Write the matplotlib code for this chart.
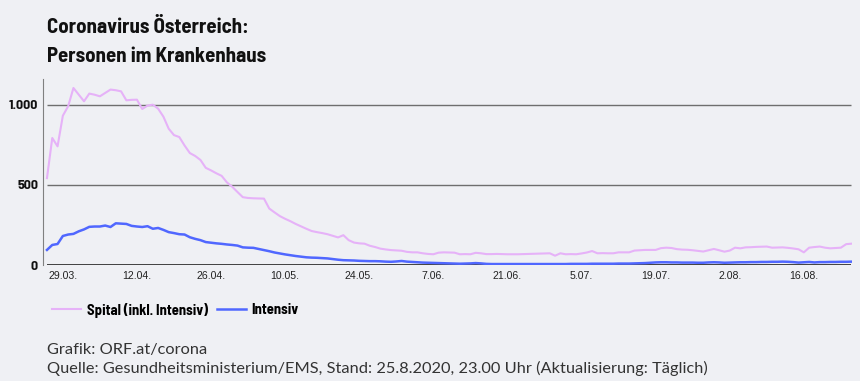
import matplotlib

matplotlib.use("Agg")
import matplotlib.pyplot as plt
import matplotlib.dates as mdates
import pandas as pd

# daily values 26.03.2020 - 25.08.2020
start_date = "2020-03-26"

spital = [
    542, 792, 740, 931, 990, 1104, 1062, 1021, 1069, 1062,
    1052, 1073, 1094, 1090, 1083, 1027, 1030, 1031, 973, 994,
    1000, 975, 925, 850, 810, 798, 745, 698, 680, 655,
    606, 590, 572, 556, 515, 488, 455, 423, 418, 416,
    415, 414, 352, 328, 305, 288, 273, 256, 241, 226,
    212, 205, 199, 192, 182, 172, 186, 155, 140, 135,
    133, 120, 112, 102, 97, 93, 91, 89, 82, 79,
    79, 73, 69, 67, 77, 79, 78, 77, 67, 68,
    67, 76, 73, 68, 68, 69, 68, 67, 67, 67,
    68, 69, 70, 71, 72, 73, 58, 73, 67, 68,
    67, 72, 78, 87, 73, 74, 73, 73, 79, 79,
    79, 90, 92, 94, 94, 94, 105, 108, 106, 99,
    96, 95, 92, 88, 84, 92, 100, 92, 83, 90,
    108, 104, 110, 111, 113, 114, 115, 108, 109, 110,
    107, 103, 98, 79, 108, 112, 115, 108, 104, 106,
    108, 130, 133,
]

intensiv = [
    94, 125, 131, 181, 190, 194, 210, 222, 238, 240,
    240, 246, 237, 260, 258, 256, 244, 240, 237, 242,
    226, 231, 219, 205, 199, 192, 190, 173, 163, 155,
    143, 139, 135, 132, 128, 125, 121, 110, 108, 107,
    100, 93, 86, 78, 72, 66, 61, 56, 52, 48,
    46, 45, 43, 41, 37, 33, 30, 29, 28, 26,
    25, 24, 24, 23, 21, 20, 22, 25, 21, 19,
    17, 15, 14, 13, 12, 11, 10, 9, 8, 9,
    10, 12, 10, 7, 6, 6, 6, 6, 6, 6,
    6, 6, 6, 6, 6, 6, 6, 6, 6, 7,
    7, 7, 7, 8, 8, 8, 8, 8, 9, 9,
    9, 10, 11, 12, 14, 16, 17, 17, 16, 16,
    15, 15, 15, 14, 14, 16, 17, 16, 14, 15,
    16, 17, 17, 18, 18, 19, 19, 20, 20, 21,
    20, 18, 15, 17, 19, 16, 18, 18, 19, 19,
    20, 20, 21,
]

tick_dates = ["2020-03-29", "2020-04-12", "2020-04-26", "2020-05-10", "2020-05-24",
              "2020-06-07", "2020-06-21", "2020-07-05", "2020-07-19", "2020-08-02",
              "2020-08-16"]
tick_labels = ["29.03.", "12.04.", "26.04.", "10.05.", "24.05.", "7.06.", "21.06.",
               "5.07.", "19.07.", "2.08.", "16.08."]
y_ticks = [0, 500, 1000]
y_labels = ["0", "500", "1.000"]

BG = "#eff0f4"
PINK = "#e6b2f8"
BLUE = "#5067ff"
COND = ["Barlow Semi Condensed", "Asap Condensed", "DejaVu Sans"]

dates = pd.date_range(start_date, periods=len(spital), freq="D")
x = mdates.date2num(dates)

fig = plt.figure(figsize=(8.6, 3.81), dpi=100, facecolor=BG)
ax = fig.add_axes([43 / 860, 116 / 381, 809 / 860, 186 / 381], facecolor=BG)

ax.hlines([500, 1000], x[0], x[-1], color="#6e6e6e", linewidth=1.0, zorder=1)
ax.hlines(0, x[0], x[-1], color="#333333", linewidth=1.3, zorder=1)

ax.plot(x, spital, color=PINK, linewidth=1.5, label="Spital (inkl. Intensiv)", zorder=3)
ax.plot(x, intensiv, color=BLUE, linewidth=1.8, label="Intensiv", zorder=4)

ax.set_xlim(x[0] - 0.75, x[-1] + 0.1)
ax.set_ylim(0, 1160)

for side in ["top", "right", "bottom"]:
    ax.spines[side].set_visible(False)
ax.spines["left"].set_color("#808080")
ax.spines["left"].set_linewidth(0.8)

ax.set_yticks(y_ticks)
ax.set_yticklabels(y_labels, family=COND, fontweight="bold", fontsize=10)
ax.set_xticks(mdates.date2num(pd.to_datetime(tick_dates)))
ax.set_xticklabels(tick_labels, family=["Liberation Sans", "DejaVu Sans"], fontsize=7.6)
ax.tick_params(axis="y", length=0, pad=3.6, colors="#111111")
ax.tick_params(axis="x", length=0, pad=4.5, colors="#222222")

fig.text(47 / 860, 1 - 33 / 381, "Coronavirus Österreich:", family=COND,
         fontweight="bold", fontsize=15, color="#111111", va="baseline")
fig.text(47 / 860, 1 - 62 / 381, "Personen im Krankenhaus", family=COND,
         fontweight="bold", fontsize=15, color="#111111", va="baseline")

leg = ax.legend(loc="center left", bbox_to_anchor=(52 / 860, 1 - 310 / 381),
                bbox_transform=fig.transFigure, ncol=2, frameon=False,
                prop={"family": COND, "weight": "bold", "size": 10.5},
                handlelength=2.0, handletextpad=0.4, columnspacing=0.6,
                borderaxespad=0, borderpad=0)

fig.text(47 / 860, 1 - 354 / 381, "Grafik: ORF.at/corona", family=["Lato", "DejaVu Sans"],
         fontsize=11.8, color="#333333", va="baseline")
fig.text(47 / 860, 1 - 373 / 381,
         "Quelle: Gesundheitsministerium/EMS, Stand: 25.8.2020, 23.00 Uhr (Aktualisierung: Täglich)",
         family=["Lato", "DejaVu Sans"], fontsize=11.8, color="#333333", va="baseline")

fig.savefig("out.png", dpi=100, facecolor=BG)
